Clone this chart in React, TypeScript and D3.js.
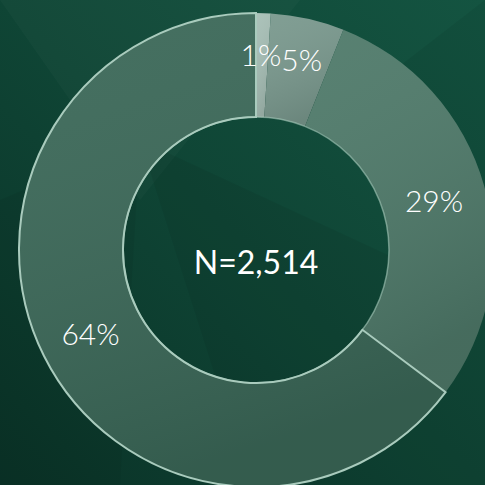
import React from "react";
import * as d3 from "d3";

const categories = ["A", "B", "C", "D"];
const values = [25, 126, 735, 1628];
const labels = ["1%", "5%", "29%", "64%"];
const sliceColors = ["#a7bfb6", "#7a998e", "#4f7a6a", "#3b6858"];
const centerLabel = "N=2,514";

const W = 485;
const H = 485;
const cx = 256;
const cy = 250;
const outerR = 237;
const innerR = 133;

export default function App() {
  const pie = d3.pie<number>().sort(null).value((d) => d)(values);
  const arc = d3.arc<d3.PieArcDatum<number>>().innerRadius(innerR).outerRadius(outerR);
  const fs = 30;

  // label positions: centroid at mid radius, small slices pushed outward
  const pos = pie.map((p, i) => {
    const mid = (p.startAngle + p.endAngle) / 2;
    const frac = (p.endAngle - p.startAngle) / (2 * Math.PI);
    const r = frac < 0.1 ? 196 : (innerR + outerR) / 2;
    return { x: Math.sin(mid) * r, y: -Math.cos(mid) * r, w: labels[i].length * fs * 0.68 };
  });
  // simple overlap resolution between neighbours (shift the later label right)
  for (let i = 0; i < pos.length - 1; i++) {
    const a = pos[i], b = pos[i + 1];
    if (Math.abs(a.y - b.y) < fs) {
      const need = (a.w + b.w) / 2;
      const gap = b.x - a.x;
      if (gap < need) {
        const d = need - gap;
        a.x -= d * 0.3;
        b.x += d * 0.7;
      }
    }
  }

  return (
    <svg width={W} height={H} style={{ display: "block", position: "absolute", left: 0, top: 0 }}>
      <defs>
        <linearGradient id="bg" x1="1" y1="0" x2="0" y2="1">
          <stop offset="0" stopColor="#145441" />
          <stop offset="0.5" stopColor="#0f4535" />
          <stop offset="1" stopColor="#0a3227" />
        </linearGradient>
        <linearGradient id="sliceShade" x1="0" y1="0" x2="0.3" y2="1">
          <stop offset="0" stopColor="#ffffff" stopOpacity="0.05" />
          <stop offset="1" stopColor="#000000" stopOpacity="0.12" />
        </linearGradient>
      </defs>
      <rect width={W} height={H} fill="url(#bg)" />
      <polygon points="0,0 300,0 140,200" fill="#ffffff" opacity="0.025" />
      <polygon points="485,0 485,250 330,120" fill="#000000" opacity="0.06" />
      <polygon points="140,140 485,300 485,485 250,485" fill="#000000" opacity="0.06" />
      <polygon points="0,200 140,140 120,485 0,485" fill="#000000" opacity="0.05" />
      <g transform={`translate(${cx},${cy})`}>
        {pie.map((p, i) => (
          <path key={categories[i]} d={arc(p) || ""} fill={sliceColors[i]} />
        ))}
        {pie.map((p, i) => (
          <path key={"s" + categories[i]} d={arc(p) || ""} fill="url(#sliceShade)" />
        ))}
        <circle r={innerR} fill="none" stroke="#a9cbbd" strokeWidth={1.5} opacity={0.6} />
        <path
          d={arc(pie[3]) || ""}
          fill="none"
          stroke="#a9cbbd"
          strokeWidth={2}
        />
        {pos.map((p, i) => (
          <text
            key={"l" + categories[i]}
            x={p.x}
            y={p.y}
            textAnchor="middle"
            dominantBaseline="central"
            fill="#ffffff"
            fontFamily="Lato, 'Noto Sans', sans-serif"
            fontWeight={300}
            fontSize={fs}
          >
            {labels[i]}
          </text>
        ))}
        <text
          x={0}
          y={11}
          textAnchor="middle"
          dominantBaseline="central"
          fill="#ffffff"
          fontFamily="Lato, 'Noto Sans', sans-serif"
          fontSize={32}
        >
          {centerLabel}
        </text>
      </g>
    </svg>
  );
}
